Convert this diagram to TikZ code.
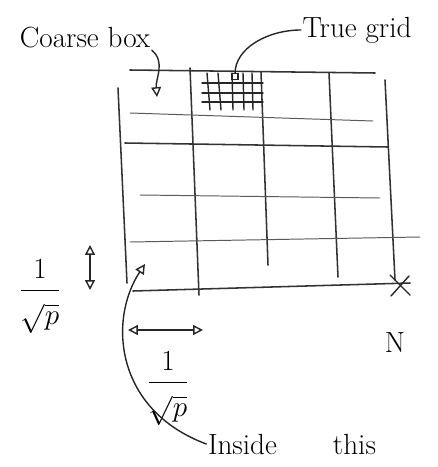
\documentclass[tikz,border=0pt]{standalone}
\usepackage{amsmath}
\usetikzlibrary{arrows.meta}
\usetikzlibrary{positioning}

\begin{document}
\begin{tikzpicture}[x=0.025cm, y=-0.025cm, line cap=round,
    gridline/.style={line width=1.1pt, black!80},
    thinline/.style={line width=0.7pt, black!65},
    penline/.style={line width=1pt, black!85},
    handtext/.style={font=\huge, inner sep=1pt},
    fractext/.style={font=\huge, inner sep=1pt, align=center},
    >={Triangle[open, length=7pt, width=7pt]}]
        \useasboundingbox (0,0) rectangle (437,467);

        \node[handtext] (coarse) at (85,38) {Coarse box};
        \node[handtext] (truegrid) at (357,30) {True grid};
        \node[fractext] (fracv) at (40,294) {\begin{tabular}{@{}c@{}}$1$\\[1pt]\hline\rule{0pt}{1.15em}$\sqrt{p}$\end{tabular}};
        \node[fractext] (frach) at (168,386) {\begin{tabular}{@{}c@{}}$1$\\[1pt]\hline\rule{0pt}{1.15em}$\sqrt{p}$\end{tabular}};
        \node[handtext] (N) at (395,343) {N};
        \node[handtext] (inside) at (292,444) {Inside\hspace{1.4cm}this};

        \coordinate (cbox) at (157,97);
        \coordinate (tgrid) at (235,80);
        \coordinate (cell) at (145,264);
        \coordinate (vtop) at (90,245);
        \coordinate (vbot) at (90,290);
        \coordinate (hleft) at (128,330);
        \coordinate (hright) at (203,330);

        \begin{scope}[gridline]
            \draw (130,70) -- (375,73);
            \draw (125,143) -- (388,147);
            \draw (133,291) -- (410,283);
            \draw (118,88) -- (127,283);
            \draw (190,68) -- (199,295);
            \draw (261,72) -- (268,265);
            \draw (329,73) -- (338,277);
            \draw (385,80) -- (395,280);
        \end{scope}

        \begin{scope}[thinline]
            \draw (130,113) -- (373,121);
            \draw (140,195) -- (380,198);
            \draw (130,242) -- (420,237);
        \end{scope}

        \begin{scope}[penline]
            \foreach \xa/\xb in {207/210, 218/221, 232/233, 243/244, 252/253}
                \draw (\xa,73) -- (\xb,110);
            \foreach \yy in {83, 93, 102}
                \draw (202,\yy) -- (263,\yy);
            \draw (390,275) -- (410,295);
            \draw (391,296) -- (409,276);

            \draw[->] (coarse.south east) to[out=-40, in=95] (cbox);
            \draw[-{Square[open, length=5pt, width=5pt]}] (truegrid.west) to[out=180, in=90] (tgrid);
            \draw[<->] (vtop) -- (vbot);
            \draw[<->] (hleft) -- (hright);
            \draw[->] (inside.west) .. controls (115,410) and (108,320) .. (cell);
        \end{scope}
    \end{tikzpicture}
\end{document}
